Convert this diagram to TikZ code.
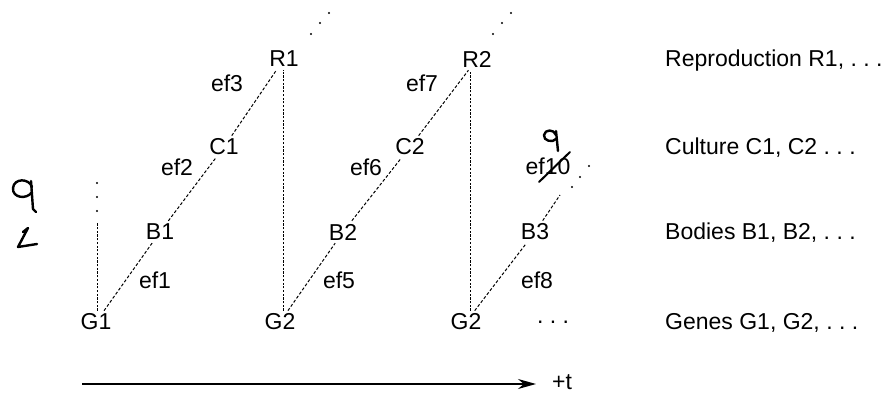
\documentclass[tikz,border=0pt]{standalone}
\usepackage{fontspec}
\setmainfont{Liberation Sans}
\usetikzlibrary{arrows.meta}
\begin{document}
\begin{tikzpicture}[x=1pt,y=-1pt,
  lbl/.style={font=\fontsize{23}{26}\selectfont, inner sep=3pt},
  rowlbl/.style={font=\fontsize{23}{26}\selectfont, anchor=base west, inner sep=0pt},
  dia/.style={line width=1pt, dash pattern=on 3pt off 2pt},
  vert/.style={line width=1pt, dash pattern=on 2.2pt off 1.5pt},
  hand/.style={line width=2.4pt, line cap=round, line join=round},
  dotmk/.style={fill=black}
]
\useasboundingbox (0,0) rectangle (895,398);

% main labels
\node[lbl] (G1) at (96,322) {G1};
\node[lbl] (B1) at (160,232) {B1};
\node[lbl] (C1) at (224,147) {C1};
\node[lbl] (R1) at (284,59) {R1};
\node[lbl] (G2a) at (280,322) {G2};
\node[lbl] (B2) at (343,232) {B2};
\node[lbl] (C2) at (410,147) {C2};
\node[lbl] (R2) at (477,59) {R2};
\node[lbl] (G2b) at (466,322) {G2};
\node[lbl] (B3) at (535,232) {B3};
\node[lbl] (gdots) at (553,322) {.\ .\ .};

% effect labels
\node[lbl] (ef1) at (155,280) {ef1};
\node[lbl] (ef2) at (177,167) {ef2};
\node[lbl] (ef3) at (227,83) {ef3};
\node[lbl] (ef5) at (339,280) {ef5};
\node[lbl] (ef6) at (366,167) {ef6};
\node[lbl] (ef7) at (422,83) {ef7};
\node[lbl] (ef8) at (537,280) {ef8};
\node[lbl] (ef10) at (548,166) {ef10};

% row labels
\node[rowlbl] (rR) at (665,67) {Reproduction R1, .\ .\ .};
\node[rowlbl] (rC) at (665,155) {Culture C1, C2 .\ .\ .};
\node[rowlbl] (rB) at (665,240) {Bodies B1, B2, .\ .\ .};
\node[rowlbl] (rG) at (665,330) {Genes G1, G2, .\ .\ .};

% diagonals
\draw[dia] (G1) -- (B1);
\draw[dia] (B1) -- (C1);
\draw[dia] (C1) -- (R1);
\draw[dia] (G2a) -- (B2);
\draw[dia] (B2) -- (C2);
\draw[dia] (C2) -- (R2);
\draw[dia] (G2b) -- (B3);
\coordinate (b3end) at (560,195);
\draw[dia] (B3) -- (b3end);
\foreach \p in {(572,187),(580,177),(589,166)} \fill[dotmk] \p circle (1.2pt);

% verticals
\coordinate (g1top) at (97,222);
\draw[vert] ([xshift=1pt]G1.north) -- (g1top);
\foreach \p in {(97,183),(97,197),(97,211)} \fill[dotmk] \p circle (1.2pt);
\draw[vert] ([xshift=3pt]G2a.north) -- ([xshift=3pt]G2a.north |- R1.south);
\draw[vert] ([xshift=4pt]G2b.north) -- ([xshift=4pt]G2b.north |- R2.south);

% continuation dots above R1, R2
\foreach \p in {(311,34),(320,23),(329,13),(493,34),(502,23),(511,13)} \fill[dotmk] \p circle (1.2pt);

% time arrow
\coordinate (tstart) at (82,384);
\node[lbl, anchor=west, inner sep=0pt] (tlbl) at (552,382) {+t};
\draw[line width=1.3pt, -{Stealth[length=18pt,width=10pt]}, shorten >=16pt] (tstart) -- (tstart -| tlbl.west);

% handwritten marks
\draw[hand] (32,187) .. controls (29,178) and (14,178) .. (13,188) .. controls (12,198) and (27,200) .. (32,192);
\draw[hand] (31,181) -- (33,209) -- (36,212);
\draw[hand] (23,232) -- (28,228) -- (18,247) -- (37,244);
\draw[hand] (556,135) .. controls (554,129) and (545,129) .. (544,135) .. controls (543,141) and (553,143) .. (556,139);
\draw[hand] (556,131) -- (558,151);
\draw[line width=2pt, line cap=round] (539,182) -- (570,152);
\end{tikzpicture}
\end{document}
